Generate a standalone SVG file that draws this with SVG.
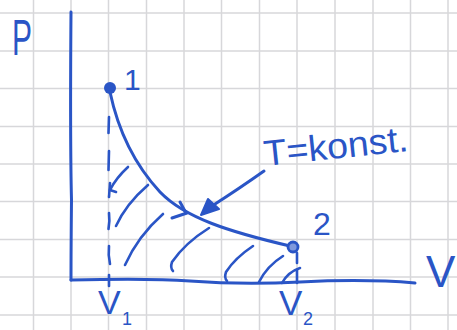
<svg xmlns="http://www.w3.org/2000/svg" width="457" height="330" viewBox="0 0 457 330">
<defs>
<style>
.grid line{stroke:#d7d7da;stroke-width:1.5}
.ink{fill:none;stroke:#2a55c6;stroke-width:3;stroke-linecap:round;stroke-linejoin:round}
.thin{stroke-width:2.6}
.lbl{fill:#2a55c6;font-family:"Liberation Sans","DejaVu Sans",sans-serif}
</style>
</defs>
<rect width="457" height="330" fill="#ffffff"/>
<g class="grid" id="grid">
<line x1="33.5" y1="0" x2="33.5" y2="330"/>
<line x1="71" y1="0" x2="71" y2="330"/>
<line x1="108.5" y1="0" x2="108.5" y2="330"/>
<line x1="146.5" y1="0" x2="146.5" y2="330"/>
<line x1="184" y1="0" x2="184" y2="330"/>
<line x1="221.5" y1="0" x2="221.5" y2="330"/>
<line x1="259.5" y1="0" x2="259.5" y2="330"/>
<line x1="297" y1="0" x2="297" y2="330"/>
<line x1="335" y1="0" x2="335" y2="330"/>
<line x1="373" y1="0" x2="373" y2="330"/>
<line x1="410.5" y1="0" x2="410.5" y2="330"/>
<line x1="448" y1="0" x2="448" y2="330"/>
<line x1="0" y1="13" x2="457" y2="13"/>
<line x1="0" y1="51" x2="457" y2="51"/>
<line x1="0" y1="88.5" x2="457" y2="88.5"/>
<line x1="0" y1="126.5" x2="457" y2="126.5"/>
<line x1="0" y1="164" x2="457" y2="164"/>
<line x1="0" y1="201.5" x2="457" y2="201.5"/>
<line x1="0" y1="239.5" x2="457" y2="239.5"/>
<line x1="0" y1="277" x2="457" y2="277"/>
<line x1="0" y1="315" x2="457" y2="315"/>
</g>
<g id="axes" class="ink">
<path d="M71,12 Q70,140 71.5,200 Q71,250 71,280"/>
<path d="M71,280 C110,279 150,278 190,281 S260,284 300,282 S380,280 415,283"/>
</g>
<g id="hatching" class="ink thin">
<path d="M128,167 Q116,178 110,190 L116,192"/>
<path d="M148,185 Q126,204 116,226"/>
<path d="M163,214 Q138,236 125,265"/>
<path d="M209,228 Q185,243 172,262 Q170,268 173,271"/>
<path d="M253,246 Q235,258 226,272 Q224,278 227,281"/>
<path d="M283,256 Q267,266 259,282"/>
<path d="M300,268 Q288,272 282,283"/>
</g>
<g id="dashes" class="ink thin">
<path d="M109,117 L108.5,133"/>
<path d="M109,151 L108.5,170"/>
<path d="M110,183 L109,197"/>
<path d="M109,213 Q110,221 108.5,229"/>
<path d="M109,246 Q108,255 110,264"/>
<path d="M109,275 L109,286"/>
<path d="M297,253 L297,263"/>
<path d="M297,270 L297,283"/>
</g>
<g id="isotherm">
<path class="ink" d="M110,92 C118,130 135,165 160,192 C185,218 230,232 290,246"/>
<path class="ink" d="M180,202 L186,213 M172,218 L187,213"/>
</g>
<g id="point1">
<circle cx="110" cy="88" r="6" fill="#2a55c6"/>
<text class="lbl" x="124" y="90" font-size="30">1</text>
</g>
<g id="point2">
<circle cx="293" cy="247" r="5" fill="#7f98dc" stroke="#2a55c6" stroke-width="2.8"/>
<text class="lbl" x="313" y="235" font-size="32">2</text>
</g>
<g id="connectors">
<path class="ink" d="M264,171 Q240,188 212,206"/>
<polygon points="201,215 208,199 219,209" fill="#2a55c6" stroke="#2a55c6" stroke-width="2" stroke-linejoin="round"/>
</g>
<g id="labels">
<text class="lbl" x="12" y="55" font-size="50" textLength="20" lengthAdjust="spacingAndGlyphs">P</text>
<text class="lbl" x="426" y="287" font-size="44">V</text>
<text class="lbl" x="98" y="314" font-size="34">V</text>
<text class="lbl" x="122" y="325" font-size="18">1</text>
<text class="lbl" x="279" y="315" font-size="35">V</text>
<text class="lbl" x="303" y="325" font-size="18">2</text>
<text class="lbl" x="265" y="166" font-size="36" textLength="145" lengthAdjust="spacingAndGlyphs" transform="rotate(-6 265 166)">T=konst.</text>
</g>
</svg>
